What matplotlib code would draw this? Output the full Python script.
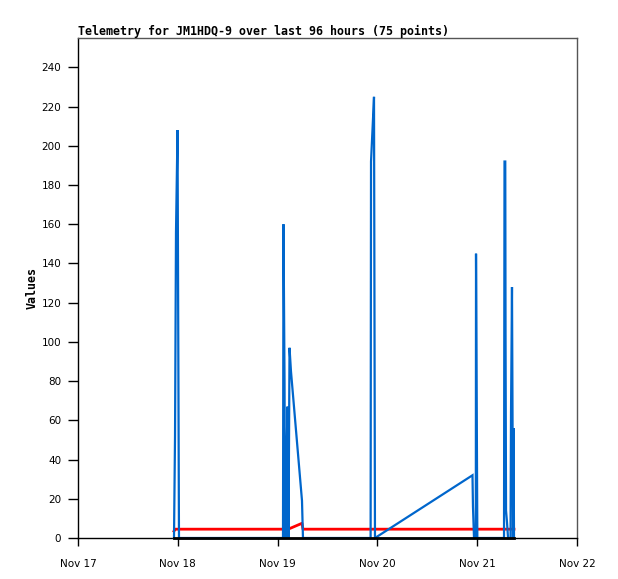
import matplotlib
matplotlib.use("Agg")
import matplotlib.pyplot as plt
import matplotlib.dates as mdates
import numpy as np

# Packet timestamps
times = [
    "2023-11-17T23:05", "2023-11-17T23:20", "2023-11-17T23:34", "2023-11-17T23:56",
    "2023-11-18T00:17", "2023-11-19T01:18", "2023-11-19T01:25", "2023-11-19T01:40",
    "2023-11-19T01:47", "2023-11-19T02:01", "2023-11-19T02:08", "2023-11-19T02:23",
    "2023-11-19T02:37", "2023-11-19T02:52", "2023-11-19T03:13", "2023-11-19T05:52",
    "2023-11-19T06:06", "2023-11-19T22:22", "2023-11-19T22:28", "2023-11-19T22:49",
    "2023-11-19T23:11", "2023-11-19T23:25", "2023-11-20T22:52", "2023-11-20T22:59",
    "2023-11-20T23:14", "2023-11-20T23:40", "2023-11-20T23:43", "2023-11-21T00:02",
    "2023-11-21T06:27", "2023-11-21T06:34", "2023-11-21T06:45", "2023-11-21T06:49",
    "2023-11-21T06:56", "2023-11-21T07:10", "2023-11-21T07:25", "2023-11-21T08:01",
    "2023-11-21T08:08", "2023-11-21T08:22", "2023-11-21T08:37", "2023-11-21T08:44",
    "2023-11-21T08:51",
]

# Series values
blue_vals = [
    0, 52, 156, 208,
    0, 0, 160, 80,
    0, 0, 40, 67,
    0, 97, 85, 19,
    0, 0, 192, 208,
    225, 0, 32, 16,
    0, 0, 145, 0,
    0, 192, 192, 104,
    14, 8, 0, 0,
    64, 128, 0, 56,
    0,
]
red_vals = [
    3.5, 4.5, 4.5, 4.5,
    4.5, 4.5, 4.5, 4.5,
    4.5, 4.5, 4.5, 4.5,
    4.5, 4.8, 5.1, 7.5,
    4.5, 4.5, 4.5, 4.5,
    4.5, 4.5, 4.5, 4.5,
    4.5, 4.5, 4.5, 4.5,
    4.5, 4.5, 4.5, 4.5,
    4.5, 4.5, 4.5, 4.5,
    4.5, 4.5, 4.5, 4.5,
    4.5,
]
black_vals = [0] * len(times)

x_ticks = ["2023-11-17", "2023-11-18", "2023-11-19", "2023-11-20", "2023-11-21", "2023-11-22"]
y_ticks = [0, 20, 40, 60, 80, 100, 120, 140, 160, 180, 200, 220, 240]

title = "Telemetry for JM1HDQ-9 over last 96 hours (75 points)"
ylabel = "Values"

t = np.array(times, dtype="datetime64[m]").astype("datetime64[ms]").astype(object)
xt = np.array(x_ticks, dtype="datetime64[D]").astype(object)

fig = plt.figure(figsize=(6.18, 5.79), dpi=100)
ax = fig.add_axes([78/618, 1-538/579, (577-78)/618, (538-38)/579])

ax.plot(t, red_vals, color="#ff0000", lw=2.0, clip_on=False, zorder=2)
ax.plot(t, blue_vals, color="#0066cc", lw=1.6, clip_on=False, zorder=3,
        solid_joinstyle="miter")
ax.plot(t, black_vals, color="#000000", lw=2.0, clip_on=False, zorder=4)

ax.set_xlim(xt[0], xt[-1])
ax.set_ylim(0, 255)
ax.set_xticks(xt)
ax.xaxis.set_major_formatter(mdates.DateFormatter("%b %d"))
ax.set_yticks(y_ticks)

ax.tick_params(axis="x", length=6, width=1, pad=9, labelsize=7.5, colors="black")
ax.tick_params(axis="y", length=7, width=1, pad=5, labelsize=7.5, colors="black")

for side in ["top", "right"]:
    ax.spines[side].set_color("#555555")
    ax.spines[side].set_linewidth(1)
for side in ["left", "bottom"]:
    ax.spines[side].set_color("black")
    ax.spines[side].set_linewidth(1)

ax.set_title(title, loc="left", fontsize=8.4, fontweight="bold",
             family="DejaVu Sans Mono", pad=2)
ax.set_ylabel(ylabel, fontsize=8.4, fontweight="bold", family="DejaVu Sans Mono",
              labelpad=2)

fig.savefig("out.png", dpi=100)
